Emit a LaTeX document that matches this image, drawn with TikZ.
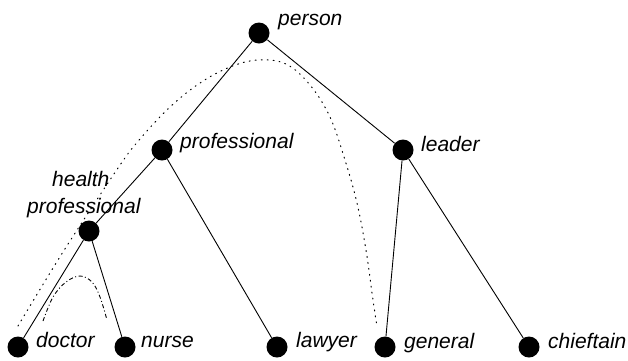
\documentclass[tikz,border=0pt]{standalone}
\usepackage{fontspec}
\setmainfont{Liberation Sans}
\begin{document}
\begin{tikzpicture}[x=1pt,y=-1pt,
  concept/.style={circle,fill=black,inner sep=0pt,minimum size=21pt},
  lbl/.style={anchor=base west,inner sep=0pt,font=\fontsize{21}{24}\selectfont\itshape},
  edge/.style={line width=0.9pt},
  hyper/.style={line width=1pt,dash pattern=on 1pt off 5pt,line cap=round},
  sister/.style={line width=0.9pt,dash pattern=on 4pt off 2.5pt on 1pt off 2.5pt}]
\useasboundingbox (0,0) rectangle (628,360);

% concepts
\node[concept] (person) at (259,33) {};
\node[concept] (prof) at (162,150) {};
\node[concept] (leader) at (403,150) {};
\node[concept] (health) at (89,231) {};
\node[concept] (doctor) at (18,347) {};
\node[concept] (nurse) at (125,347) {};
\node[concept] (lawyer) at (277,347) {};
\node[concept] (general) at (385,347) {};
\node[concept] (chief) at (529,347) {};

% labels
\node[lbl] (tperson) at (278,25) {person};
\node[lbl] (tprof) at (180,148) {professional};
\node[lbl] (tleader) at (421,151) {leader};
\node[lbl] (thealth1) at (52,186) {health};
\node[lbl] (thealth2) at (27,213) {professional};
\node[lbl] (tdoctor) at (36,347) {doctor};
\node[lbl] (tnurse) at (141,347) {nurse};
\node[lbl] (tlawyer) at (296,347) {lawyer};
\node[lbl] (tgeneral) at (404,348) {general};
\node[lbl] (tchief) at (548,348) {chieftain};

% hierarchy
\draw[edge] (person) -- (prof);
\draw[edge] (person) -- (leader);
\draw[edge] (prof) -- (health);
\draw[edge] (prof) -- (lawyer);
\draw[edge] (health) -- (doctor);
\draw[edge] (health) -- (nurse);
\draw[edge] (leader) -- (general);
\draw[edge] (leader) -- (chief);

% path between doctor and general through the common ancestor
\coordinate (hA) at (18,326);
\coordinate (hB) at (377,327);
\draw[hyper] plot[smooth,tension=0.6] coordinates {
  (hA) (63,252) (118,168) (140,139) (170,107) (200,83) (230,67) (258,60)
  (286,64) (310,85) (330,117) (345,160) (357,203) (366,250) (372,293) (hB)};

% path between doctor and nurse
\coordinate (sA) at (43,321);
\coordinate (sB) at (107,320);
\draw[sister] plot[smooth,tension=0.6] coordinates {
  (sA) (53,297) (66,282) (80,276) (92,282) (100,297) (sB)};
\end{tikzpicture}
\end{document}
